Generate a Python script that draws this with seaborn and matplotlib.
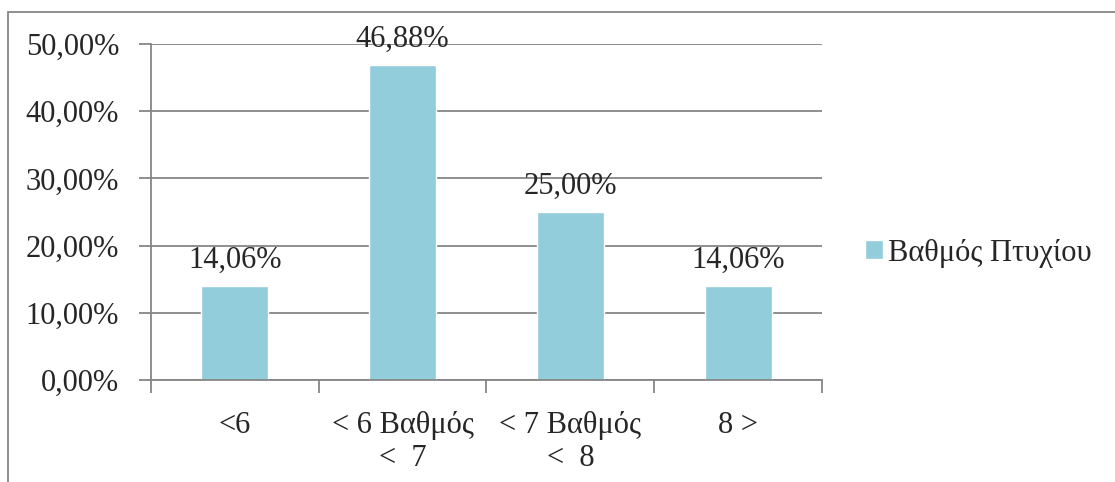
import matplotlib
matplotlib.use("Agg")
import matplotlib.pyplot as plt
import seaborn as sns
import pandas as pd
from matplotlib.patches import Rectangle
from matplotlib.ticker import FuncFormatter

# data
categories = ["<6", "< 6 Βαθμός\n<  7", "< 7 Βαθμός\n<  8", "8 >"]
values = [0.1406, 0.4688, 0.2500, 0.1406]
series_name = "Βαθμός Πτυχίου"

bar_color = "#92CDDC"
line_gray = "#868686"
fs = 22

sns.set_style("white")
plt.rcParams["font.family"] = ["Liberation Serif", "DejaVu Serif"]

df = pd.DataFrame({"cat": categories, "val": values})

fig = plt.figure(figsize=(11.15, 4.82), dpi=100)
ax = fig.add_axes([0.1354, 0.2116, 0.6018, 0.6971])

sns.barplot(data=df, x="cat", y="val", color=bar_color, width=0.4,
            saturation=1, ax=ax, label=series_name)

def pct(v, pos=None):
    return f"{v * 100:.2f}%".replace(".", ",")

ax.set_ylim(0, 0.5)
ax.set_xlim(-0.5, len(categories) - 0.5)
ax.set_yticks([0, 0.1, 0.2, 0.3, 0.4, 0.5])
ax.yaxis.set_major_formatter(FuncFormatter(pct))
ax.set_xticks([i - 0.5 for i in range(len(categories) + 1)], minor=False)
ax.set_xticklabels([])
ax.set_xticks(range(len(categories)), minor=True)
ax.set_xticklabels(categories, minor=True)
ax.tick_params(axis="x", which="minor", bottom=False, length=0, pad=22, labelsize=fs)
ax.tick_params(axis="x", which="major", bottom=True, length=9, width=1.3,
               color=line_gray, direction="out")
ax.tick_params(axis="y", left=True, length=9, width=1.3, color=line_gray,
               direction="out", pad=14, labelsize=fs)
ax.set_xlabel("")
ax.set_ylabel("")

ax.grid(axis="y", color=line_gray, linewidth=1.3)
ax.set_axisbelow(True)
for side in ["top", "right"]:
    ax.spines[side].set_visible(False)
for side in ["left", "bottom"]:
    ax.spines[side].set_color(line_gray)
    ax.spines[side].set_linewidth(1.3)

# data labels above bars
for i, v in enumerate(values):
    ax.annotate(pct(v), (i, v), xytext=(0, 8), textcoords="offset points",
                ha="center", va="bottom", fontsize=fs)

ax.legend(loc="center left", bbox_to_anchor=(0.751, 0.475),
          bbox_transform=fig.transFigure, frameon=False, fontsize=fs,
          handlelength=0.6, handleheight=0.6, handletextpad=0.15)

# chart border
fig.patches.append(Rectangle((0.0072, -0.1), 1.2, 1.075, transform=fig.transFigure,
                             fill=False, edgecolor=line_gray, linewidth=1.3))

fig.savefig("out.png", dpi=100)
